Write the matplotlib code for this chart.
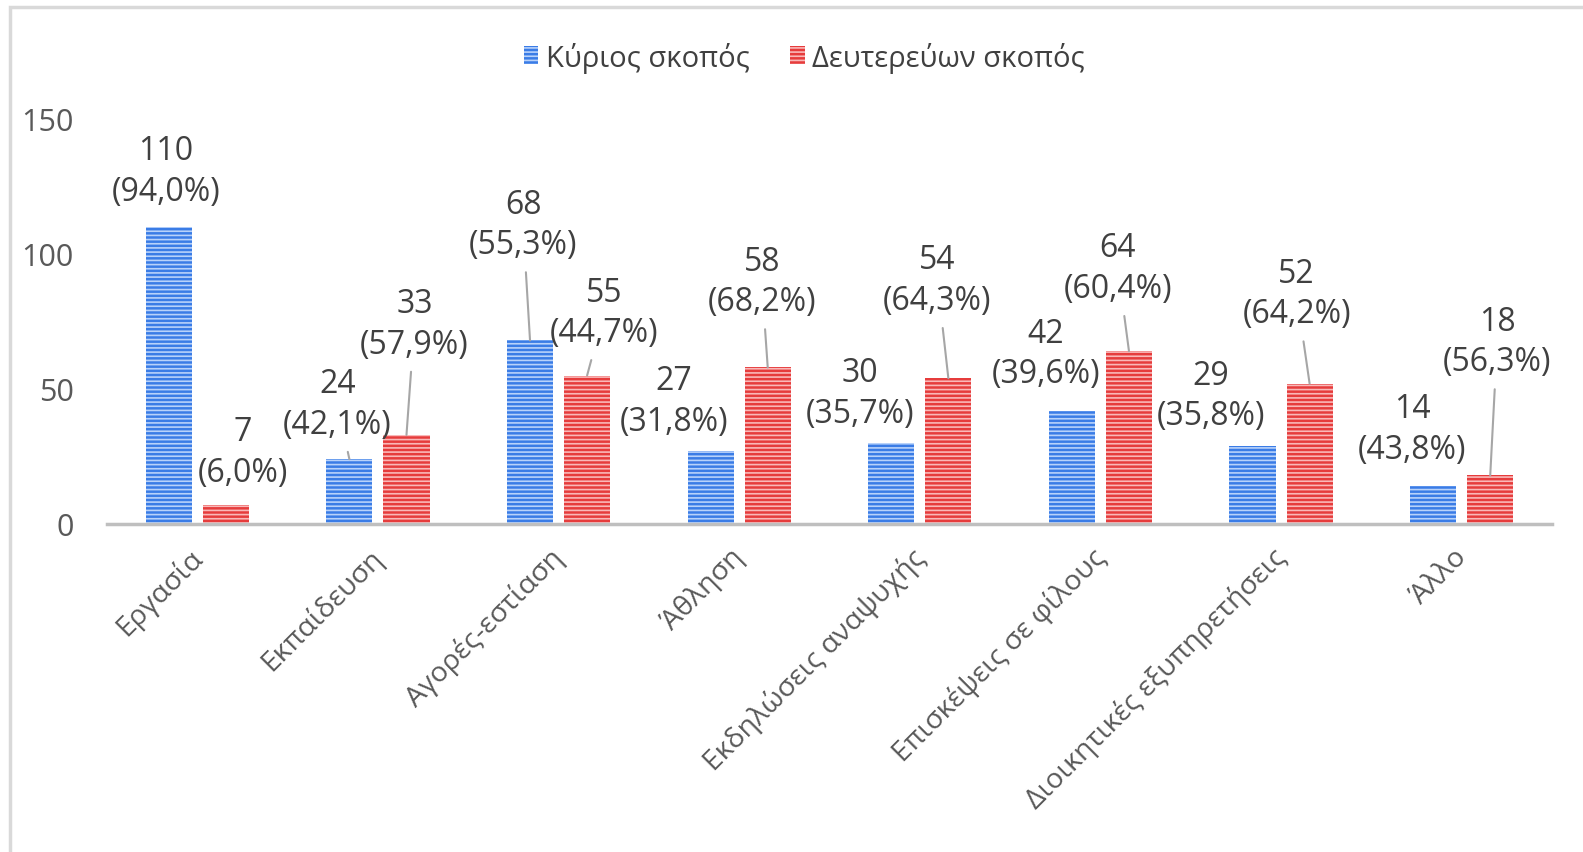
import numpy as np
import matplotlib.pyplot as plt
import matplotlib.transforms as mtransforms
from matplotlib.patches import Rectangle

plt.rcParams['font.family'] = ['Open Sans', 'DejaVu Sans']
plt.rcParams['hatch.linewidth'] = 1.2

categories = ["Εργασία", "Εκπαίδευση", "Αγορές-εστίαση", "Άθληση",
              "Εκδηλώσεις αναψυχής", "Επισκέψεις σε φίλους",
              "Διοικητικές εξυπηρετήσεις", "Άλλο"]
main_vals = [110, 24, 68, 27, 30, 42, 29, 14]
main_pct = ["94,0", "42,1", "55,3", "31,8", "35,7", "39,6", "35,8", "43,8"]
second_vals = [7, 33, 55, 58, 54, 64, 52, 18]
second_pct = ["6,0", "57,9", "44,7", "68,2", "64,3", "60,4", "64,2", "56,3"]
series_names = ["Κύριος σκοπός", "Δευτερεύων σκοπός"]

# label placement (pixel offsets from bar top) and leader lines
main_off = [(-3, 56), (-12, 55), (-7, 116), (-37, 50), (-31, 50), (-26, 57), (-42, 50), (-21, 57)]
main_lead = [0, 1, 1, 0, 0, 0, 0, 0]
second_off = [(17, 53), (8, 111), (17, 63), (-6, 86), (-11, 98), (-11, 83), (-13, 90), (7, 134)]
second_lead = [0, 1, 1, 1, 1, 1, 1, 1]

blue, blue_stripe = '#3a7ce6', '#b8d2fa'
red, red_stripe = '#e63c3c', '#f9b8b8'
txt = '#404040'
W, H = 1583, 853

fig = plt.figure(figsize=(W / 100, H / 100), dpi=100)
ax = fig.add_axes([107 / W, 1 - 525 / H, (1552 - 107) / W, 405 / H])

x = np.arange(len(categories))
bw = 0.255
off = 0.158
b1 = ax.bar(x - off, main_vals, bw, color=blue, edgecolor=blue_stripe, linewidth=0,
            hatch='----', label=series_names[0])
b2 = ax.bar(x + off, second_vals, bw, color=red, edgecolor=red_stripe, linewidth=0,
            hatch='----', label=series_names[1])

def put_labels(xs, vals, pcts, offs, leads):
    for xi, v, p, (dx, dy), ld in zip(xs, vals, pcts, offs, leads):
        arrow = dict(arrowstyle='-', color='#a6a6a6', lw=1.5, shrinkA=6, shrinkB=0) if ld else None
        ax.annotate(f"{v}\n({p}%)", xy=(xi, v), xytext=(dx, dy), textcoords='offset pixels',
                    ha='center', va='center', fontsize=23, color=txt, linespacing=1.3,
                    arrowprops=arrow)

put_labels(x - off, main_vals, main_pct, main_off, main_lead)
put_labels(x + off, second_vals, second_pct, second_off, second_lead)

ax.set_xlim(-0.5, len(categories) - 0.5)
ax.set_ylim(0, 150)
ax.set_yticks([0, 50, 100, 150])
ax.tick_params(axis='y', length=0, pad=24, labelsize=22, labelcolor='#595959')
ax.tick_params(axis='x', length=0, pad=12)
ax.set_xticks(x)
ax.set_xticklabels(categories, rotation=45, ha='right', rotation_mode='anchor',
                   fontsize=20.5, color='#595959')
shift = mtransforms.ScaledTranslation(-9 / 100, -2 / 100, fig.dpi_scale_trans)
for lab in ax.get_xticklabels():
    lab.set_transform(lab.get_transform() + shift)
for s in ['top', 'right', 'left']:
    ax.spines[s].set_visible(False)
ax.spines['bottom'].set_color('#bfbfbf')
ax.spines['bottom'].set_linewidth(2.5)
ax.set_facecolor('none')

fig.legend(handles=[b1, b2], labels=series_names, loc='center', bbox_to_anchor=(0.508, 1 - 58 / H),
           ncol=2, frameon=False, fontsize=21, handlelength=0.5, handleheight=0.55,
           handletextpad=0.25, columnspacing=1.4, labelcolor='#404040')

fig.patches.append(Rectangle((10 / W, -0.1), 1.2, 1.1 - 8 / H, transform=fig.transFigure,
                             fill=False, edgecolor='#d9d9d9', linewidth=2.5))

fig.savefig('out.png', dpi=100)
